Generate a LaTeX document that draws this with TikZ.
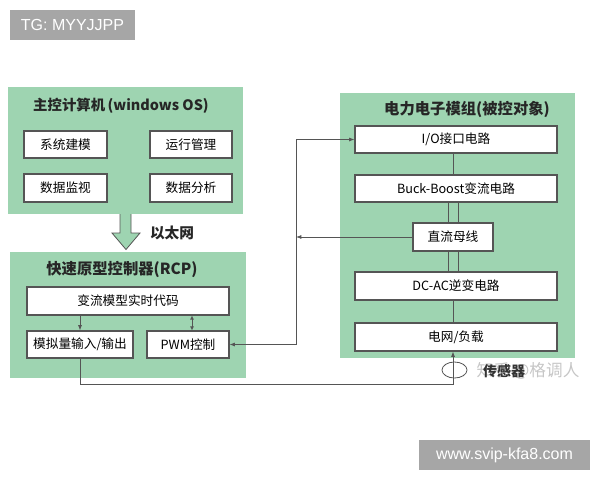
\documentclass[tikz,border=0pt]{standalone}
\usepackage{fontspec}
\setmainfont{Noto Sans CJK SC}
\newfontfamily\wmfont{Liberation Sans}
\usetikzlibrary{arrows.meta,shapes.geometric}
\definecolor{pgreen}{RGB}{158,212,177}
\definecolor{edge}{RGB}{85,85,85}
\definecolor{wmgray}{RGB}{166,166,166}
\tikzset{
  sz/.style 2 args={minimum width=#1*0.75pt, minimum height=#2*0.75pt},
  panel/.style={fill=pgreen, draw=none, inner sep=0pt},
  ibox/.style={fill=white, draw=edge, line width=0.8pt, inner sep=0pt, font=\fontsize{9.5}{11}\selectfont},
  ttl/.style={font=\bfseries\fontsize{11.5}{13}\selectfont, text=black!85},
  conn/.style={draw=edge, line width=0.6pt},
  arr/.style={conn, -{Latex[length=4pt,width=3pt]}},
  wm/.style={fill=wmgray, text=white, font=\wmfont\fontsize{12}{14}\selectfont, inner sep=0pt}
}
\begin{document}
\begin{tikzpicture}[x=0.75pt,y=-0.75pt]
\useasboundingbox (0,0) rectangle (600,480);
% watermarks
\node[wm, sz={125}{30}] (wm1) at (72.5,25) {TG: MYYJJPP};
\node[wm, sz={171}{30}] (wm2) at (504.5,455) {www.svip-kfa8.com};
% panels
\node[panel, sz={235}{127}] (pc) at (125.5,150.5) {};
\node[panel, sz={236}{126}] (rcp) at (128,315) {};
\node[panel, sz={235}{265}] (pe) at (457.5,225.5) {};
% titles
\node[ttl, font=\bfseries\fontsize{10.8}{13}\selectfont] (pct) at (121,106) {主控计算机\,(windows OS)};
\node[ttl] (rcpt) at (122,269) {快速原型控制器(RCP)};
\node[ttl] (pet) at (467,109) {电力电子模组(被控对象)};
% PC boxes
\node[ibox, sz={83}{27}] (sys) at (65.5,144.5) {系统建模};
\node[ibox, sz={82}{27}] (run) at (191,144.5) {运行管理};
\node[ibox, sz={83}{28}] (mon) at (65.5,188) {数据监视};
\node[ibox, sz={82}{28}] (ana) at (191,188) {数据分析};
% RCP boxes
\node[ibox, sz={202}{28}] (code) at (128,301) {变流模型实时代码};
\node[ibox, sz={106}{27}] (aio) at (80,344.5) {模拟量输入/输出};
\node[ibox, sz={82}{27}] (pwm) at (188,344.5) {PWM控制};
% PE boxes
\node[ibox, sz={202}{27}] (io) at (456,139.5) {I/O接口电路};
\node[ibox, sz={202}{27}] (bb) at (456,188.5) {Buck-Boost变流电路};
\node[ibox, sz={80}{28}] (dc) at (453,237) {直流母线};
\node[ibox, sz={202}{28}] (dcac) at (456,286) {DC-AC逆变电路};
\node[ibox, sz={202}{28}] (grid) at (456,337) {电网/负载};
% ethernet block arrow
\draw[fill=pgreen, draw=edge, line width=0.6pt] (120,214) -- (120,233) -- (112,233) -- (126,249.5) -- (140,233) -- (131,233) -- (131,214);
\node[font=\bfseries\fontsize{11}{13}\selectfont, text=black!85] (eth) at (172,233) {以太网};
% inner connectors
\draw[arr] (code.south -| aio) -- (aio.north);
\draw[conn, {Latex[length=3pt,width=3pt]}-{Latex[length=3pt,width=3pt]}] ([xshift=3pt]pwm.north) -- ([xshift=3pt]pwm.north |- code.south);
\draw[conn] (io.south -| dc) -- (bb.north -| dc);
\draw[conn] ([xshift=-3.75pt]dc.north) -- ([xshift=-3.75pt]dc.north |- bb.south);
\draw[conn] ([xshift=3.75pt]dc.north) -- ([xshift=3.75pt]dc.north |- bb.south);
\draw[conn] ([xshift=-3.75pt]dc.south) -- ([xshift=-3.75pt]dc.south |- dcac.north);
\draw[conn] ([xshift=3.75pt]dc.south) -- ([xshift=3.75pt]dc.south |- dcac.north);
\draw[conn] (dcac.south -| dc) -- (grid.north -| dc);
% bus
\coordinate (bus1) at (296,139.5);
\coordinate (bus2) at (296,344.5);
\draw[conn] (bus1) -- (bus2);
\draw[arr] (bus1) -- (io.west);
\draw[arr] (bus2) -- (pwm.east);
\draw[arr] (dc.west) -- (dc.west -| bus1);
% sensor
\node[gray!45, font=\fontsize{12.5}{14}\selectfont] (zh) at (528,371) {知乎 @格调人};
\node[font=\bfseries\fontsize{10.5}{12}\selectfont, text=black!80] (sens) at (504,371) {传感器};
\node[ellipse, draw=edge, line width=0.6pt, sz={25}{16}, inner sep=0pt] (ct) at (454.5,370) {};
\coordinate (bot) at (453,384);
\draw[arr] (aio.south) -- (aio.south |- bot) -- (bot) -- (grid.south -| bot);
\end{tikzpicture}
\end{document}
